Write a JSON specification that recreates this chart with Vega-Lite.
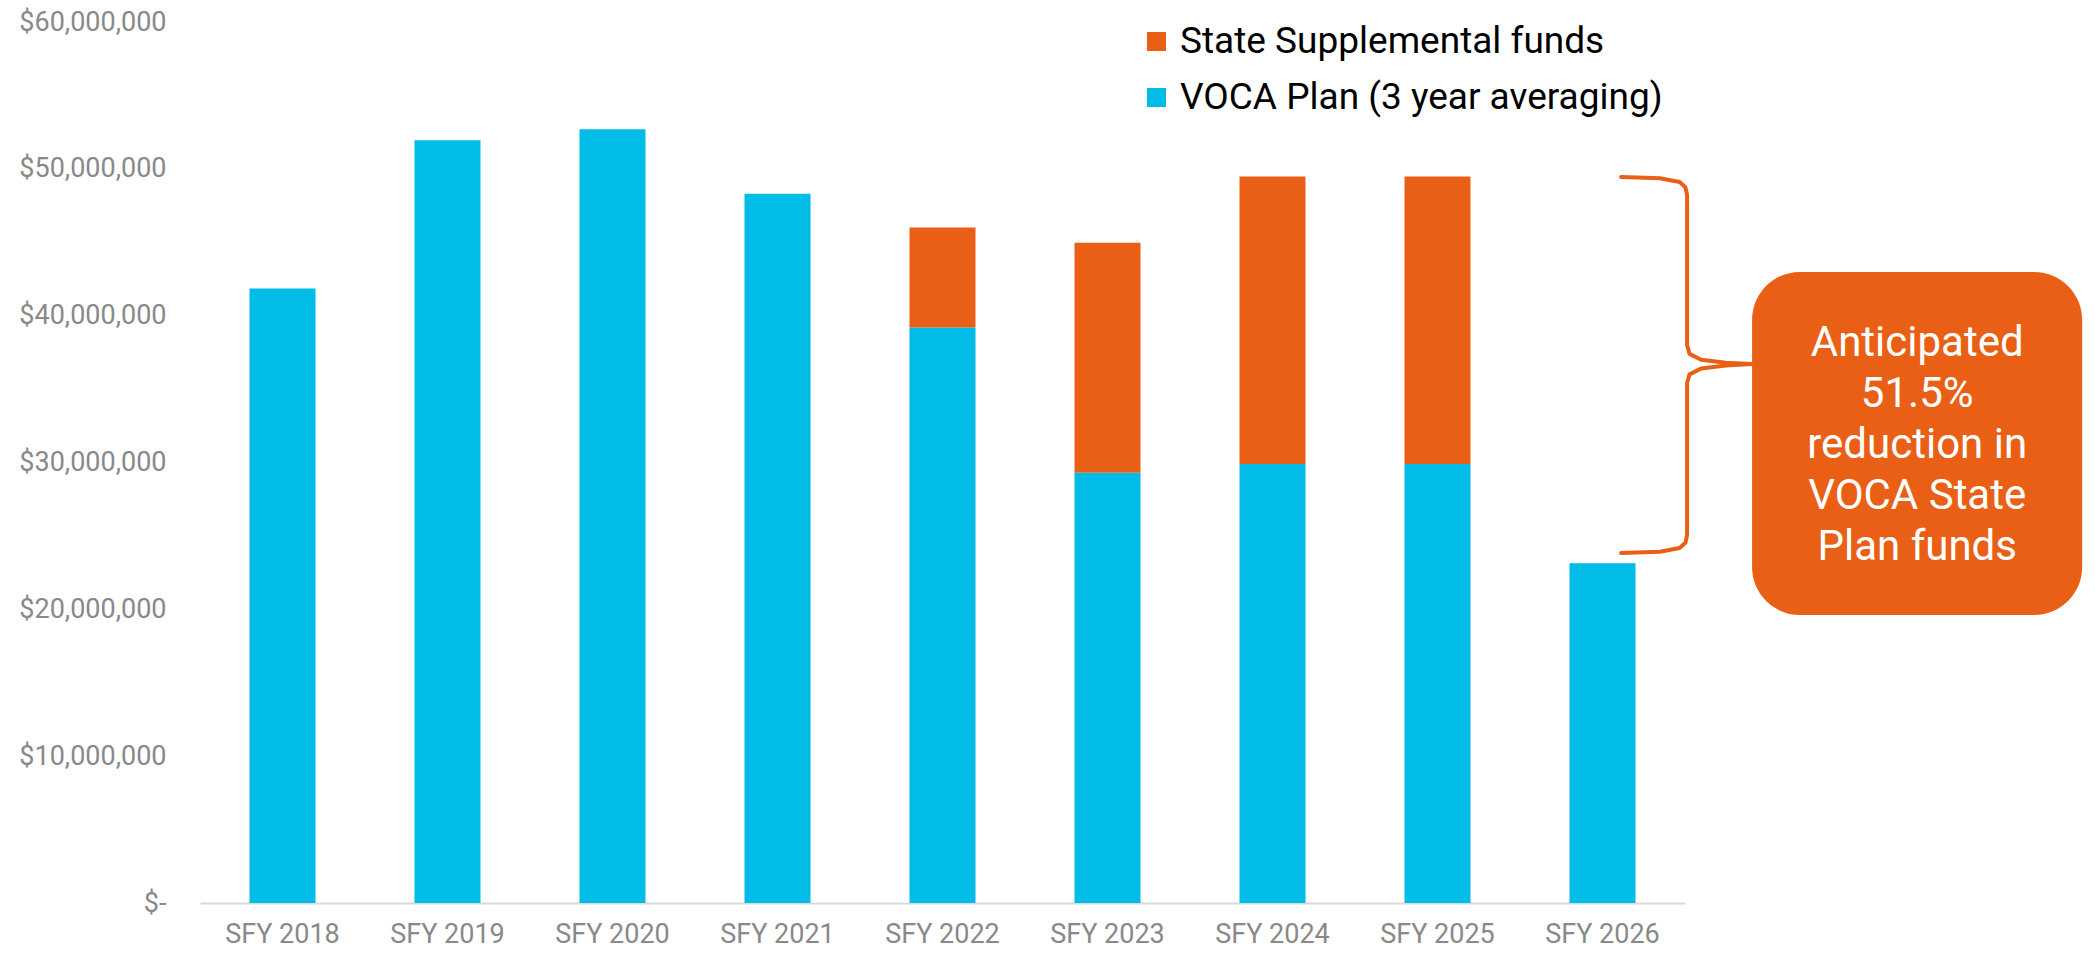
{
  "$schema": "https://vega.github.io/schema/vega-lite/v6.json",
  "width": 1897,
  "height": 881,
  "autosize": {"type": "none"},
  "padding": {"left": 200, "top": 22, "right": 0, "bottom": 50},
  "background": "white",
  "config": {
    "view": {"stroke": null},
    "font": "Roboto",
    "text": {"font": "Roboto"}
  },
  "datasets": {
    "funds": [
      {"year": "SFY 2018", "series": "VOCA Plan (3 year averaging)", "amount": 41850000},
      {"year": "SFY 2019", "series": "VOCA Plan (3 year averaging)", "amount": 51950000},
      {"year": "SFY 2020", "series": "VOCA Plan (3 year averaging)", "amount": 52700000},
      {"year": "SFY 2021", "series": "VOCA Plan (3 year averaging)", "amount": 48300000},
      {"year": "SFY 2022", "series": "VOCA Plan (3 year averaging)", "amount": 39200000},
      {"year": "SFY 2022", "series": "State Supplemental funds", "amount": 6800000},
      {"year": "SFY 2023", "series": "VOCA Plan (3 year averaging)", "amount": 29300000},
      {"year": "SFY 2023", "series": "State Supplemental funds", "amount": 15670000},
      {"year": "SFY 2024", "series": "VOCA Plan (3 year averaging)", "amount": 29900000},
      {"year": "SFY 2024", "series": "State Supplemental funds", "amount": 19570000},
      {"year": "SFY 2025", "series": "VOCA Plan (3 year averaging)", "amount": 29900000},
      {"year": "SFY 2025", "series": "State Supplemental funds", "amount": 19570000},
      {"year": "SFY 2026", "series": "VOCA Plan (3 year averaging)", "amount": 23130000}
    ],
    "brace": [
      {"i": 1, "pos": 9.115, "amount": 49440000},
      {"i": 2, "pos": 9.35, "amount": 49360000},
      {"i": 3, "pos": 9.47, "amount": 49100000},
      {"i": 4, "pos": 9.505, "amount": 48750000},
      {"i": 5, "pos": 9.515, "amount": 48220000},
      {"i": 6, "pos": 9.515, "amount": 38000000},
      {"i": 7, "pos": 9.53, "amount": 37400000},
      {"i": 8, "pos": 9.6, "amount": 37000000},
      {"i": 9, "pos": 9.75, "amount": 36800000},
      {"i": 10, "pos": 9.909, "amount": 36710000},
      {"i": 11, "pos": 9.75, "amount": 36600000},
      {"i": 12, "pos": 9.6, "amount": 36400000},
      {"i": 13, "pos": 9.53, "amount": 36000000},
      {"i": 14, "pos": 9.515, "amount": 35410000},
      {"i": 15, "pos": 9.515, "amount": 25060000},
      {"i": 16, "pos": 9.505, "amount": 24530000},
      {"i": 17, "pos": 9.47, "amount": 24180000},
      {"i": 18, "pos": 9.35, "amount": 23920000},
      {"i": 19, "pos": 9.115, "amount": 23840000}
    ],
    "callout": [
      {"pos": 9.909, "pos2": 11.91, "top": 42980000, "bottom": 19610000, "mid": 10.91, "textY": 38140000, "label": ["Anticipated", "51.5%", "reduction in", "VOCA State", "Plan funds"]}
    ]
  },
  "layer": [
    {
      "data": {"name": "funds"},
      "mark": {"type": "bar"},
      "encoding": {
        "x": {
          "field": "year",
          "type": "nominal",
          "sort": null,
          "scale": {"range": [0, 1485], "paddingInner": 0.6, "paddingOuter": 0.3},
          "axis": {
            "title": null,
            "labelAngle": 0,
            "labelFont": "Roboto",
            "labelFontSize": 27,
            "labelColor": "#898989",
            "labelPadding": 18,
            "ticks": false,
            "tickSize": 0,
            "domainColor": "#d9d9d9",
            "domainWidth": 2
          }
        },
        "y": {
          "field": "amount",
          "type": "quantitative",
          "aggregate": "sum",
          "stack": "zero",
          "scale": {"domain": [0, 60000000], "nice": false},
          "axis": {
            "title": null,
            "values": [0, 10000000, 20000000, 30000000, 40000000, 50000000, 60000000],
            "labelExpr": "datum.value == 0 ? '$-\u00a0\u00a0' : '$' + format(datum.value, ',.0f')",
            "labelFont": "Roboto",
            "labelFontSize": 27,
            "labelColor": "#898989",
            "labelPadding": 34,
            "ticks": false,
            "tickSize": 0,
            "domain": false,
            "grid": false
          }
        },
        "color": {
          "field": "series",
          "type": "nominal",
          "scale": {
            "domain": ["State Supplemental funds", "VOCA Plan (3 year averaging)"],
            "range": ["#EA5F16", "#00BCE7"]
          },
          "legend": {
            "title": null,
            "orient": "none",
            "legendX": 938,
            "legendY": 1,
            "symbolType": "square",
            "symbolSize": 361,
            "symbolStrokeWidth": 0,
            "labelFont": "Roboto",
            "labelFontSize": 37,
            "labelColor": "#000000",
            "labelOffset": 5,
            "rowPadding": 18,
            "labelLimit": 800
          }
        },
        "order": {"field": "series", "sort": "descending"}
      }
    },
    {
      "data": {"name": "callout"},
      "mark": {"type": "rect", "color": "#EA5F16", "cornerRadius": 48},
      "encoding": {
        "x": {"field": "pos", "type": "quantitative", "scale": {"domain": [0.5, 12], "nice": false, "zero": false}, "axis": null},
        "x2": {"field": "pos2"},
        "y": {"field": "top", "type": "quantitative"},
        "y2": {"field": "bottom"}
      }
    },
    {
      "data": {"name": "brace"},
      "mark": {"type": "line", "color": "#EA5F16", "strokeWidth": 4, "strokeCap": "round", "strokeJoin": "round"},
      "encoding": {
        "x": {"field": "pos", "type": "quantitative", "scale": {"domain": [0.5, 12], "nice": false, "zero": false}, "axis": null},
        "y": {"field": "amount", "type": "quantitative"},
        "order": {"field": "i", "type": "quantitative"}
      }
    },
    {
      "data": {"name": "callout"},
      "mark": {"type": "text", "color": "white", "font": "Roboto", "fontSize": 42, "align": "center", "baseline": "middle", "lineHeight": 51},
      "encoding": {
        "x": {"field": "mid", "type": "quantitative", "scale": {"domain": [0.5, 12], "nice": false, "zero": false}, "axis": null},
        "y": {"field": "textY", "type": "quantitative"},
        "text": {"field": "label"}
      }
    }
  ],
  "resolve": {"scale": {"x": "independent"}}
}
